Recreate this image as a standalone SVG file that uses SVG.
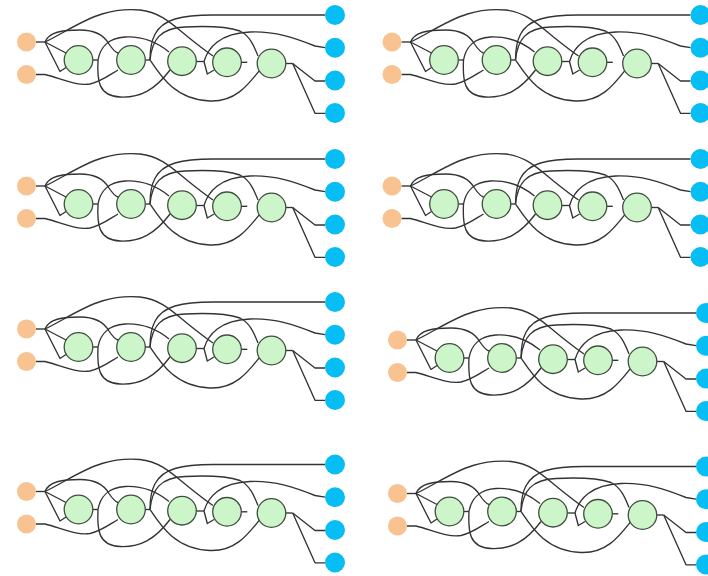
<svg xmlns="http://www.w3.org/2000/svg" width="708" height="576" viewBox="0 0 708 576">
<style>
  .bg{fill:#ffffff}
  .w path{fill:none;stroke:#333333;stroke-width:1.35;stroke-linejoin:round}
  .in circle{fill:#F8C291}
  .hid circle{fill:#CDF5CA;stroke:#3f4f3d;stroke-width:1.3}
  .out circle{fill:#06BEF4}
</style>
<rect class="bg" x="0" y="0" width="708" height="576"/>

<!-- network 1 -->
<g id="net1" transform="translate(0,0)">
  <g id="net1-connectors" class="w">
    <path d="M36,42 H45"/>
    <path d="M45,42 L66,53"/>
    <path d="M45,42 L60,71.5 L66,67.5"/>
    <path d="M45,42 C62,34 82,20 102,14 C115,10 128,9 140,10 C160,12 172,24 188,37 C198,45 207,52 213,56"/>
    <path d="M45,42 C49,32 62,30 80,30 C97,30 105,37 109,44 C113,50 115,52 118,53"/>
    <path d="M36,74.5 H45 C60,78 75,86 90,84 C100,82 108,76 118,70"/>
    <path d="M92.8,60 H98"/>
    <path d="M98,60 C100,48 108,38 125,37 C145,36 158,43 169,52"/>
    <path d="M98,60 C97,80 98,96 120,97 C140,98 155,90 170,70"/>
    <path d="M145.3,60 H150"/>
    <path d="M150,60 C150,40 155,25 175,19 C185,16 195,15 213,15 H325"/>
    <path d="M150,60 C152,40 160,28 185,27 C205,26 225,26 240,31 C250,36 254,46 258,56"/>
    <path d="M150,60 C160,75 175,100 210,101 C235,102 248,85 259,71"/>
    <path d="M196.3,61.5 H204"/>
    <path d="M204,61.5 L207.3,74 L214,70"/>
    <path d="M204,61.5 C208,48 220,33 250,32 C275,31 295,38 315,46 L325,47.7"/>
    <path d="M241.3,62.3 H247.3"/>
    <path d="M285.8,63.5 H292.7"/>
    <path d="M292.7,63.5 L315,81 H325"/>
    <path d="M292.7,63.5 L315,113.3 H325"/>
  </g>
  <g id="net1-in1" class="in"><circle cx="26.5" cy="42" r="9.5"/></g>
  <g id="net1-in2" class="in"><circle cx="26.5" cy="74.5" r="9.5"/></g>
  <g id="net1-h1" class="hid"><circle cx="78.5" cy="60" r="14.3"/></g>
  <g id="net1-h2" class="hid"><circle cx="131" cy="60" r="14.3"/></g>
  <g id="net1-h3" class="hid"><circle cx="182" cy="61.2" r="14.3"/></g>
  <g id="net1-h4" class="hid"><circle cx="227" cy="62.3" r="14.3"/></g>
  <g id="net1-h5" class="hid"><circle cx="271.5" cy="63.5" r="14.3"/></g>
  <g id="net1-out1" class="out"><circle cx="335" cy="15" r="10"/></g>
  <g id="net1-out2" class="out"><circle cx="335" cy="47.7" r="10"/></g>
  <g id="net1-out3" class="out"><circle cx="335" cy="80.5" r="10"/></g>
  <g id="net1-out4" class="out"><circle cx="335" cy="113" r="10"/></g>
</g>

<!-- network 2 -->
<g id="net2" transform="translate(365.5,0)">
  <g id="net2-connectors" class="w">
    <path d="M36,42 H45"/>
    <path d="M45,42 L66,53"/>
    <path d="M45,42 L60,71.5 L66,67.5"/>
    <path d="M45,42 C62,34 82,20 102,14 C115,10 128,9 140,10 C160,12 172,24 188,37 C198,45 207,52 213,56"/>
    <path d="M45,42 C49,32 62,30 80,30 C97,30 105,37 109,44 C113,50 115,52 118,53"/>
    <path d="M36,74.5 H45 C60,78 75,86 90,84 C100,82 108,76 118,70"/>
    <path d="M92.8,60 H98"/>
    <path d="M98,60 C100,48 108,38 125,37 C145,36 158,43 169,52"/>
    <path d="M98,60 C97,80 98,96 120,97 C140,98 155,90 170,70"/>
    <path d="M145.3,60 H150"/>
    <path d="M150,60 C150,40 155,25 175,19 C185,16 195,15 213,15 H325"/>
    <path d="M150,60 C152,40 160,28 185,27 C205,26 225,26 240,31 C250,36 254,46 258,56"/>
    <path d="M150,60 C160,75 175,100 210,101 C235,102 248,85 259,71"/>
    <path d="M196.3,61.5 H204"/>
    <path d="M204,61.5 L207.3,74 L214,70"/>
    <path d="M204,61.5 C208,48 220,33 250,32 C275,31 295,38 315,46 L325,47.7"/>
    <path d="M241.3,62.3 H247.3"/>
    <path d="M285.8,63.5 H292.7"/>
    <path d="M292.7,63.5 L315,81 H325"/>
    <path d="M292.7,63.5 L315,113.3 H325"/>
  </g>
  <g id="net2-in1" class="in"><circle cx="26.5" cy="42" r="9.5"/></g>
  <g id="net2-in2" class="in"><circle cx="26.5" cy="74.5" r="9.5"/></g>
  <g id="net2-h1" class="hid"><circle cx="78.5" cy="60" r="14.3"/></g>
  <g id="net2-h2" class="hid"><circle cx="131" cy="60" r="14.3"/></g>
  <g id="net2-h3" class="hid"><circle cx="182" cy="61.2" r="14.3"/></g>
  <g id="net2-h4" class="hid"><circle cx="227" cy="62.3" r="14.3"/></g>
  <g id="net2-h5" class="hid"><circle cx="271.5" cy="63.5" r="14.3"/></g>
  <g id="net2-out1" class="out"><circle cx="335" cy="15" r="10"/></g>
  <g id="net2-out2" class="out"><circle cx="335" cy="47.7" r="10"/></g>
  <g id="net2-out3" class="out"><circle cx="335" cy="80.5" r="10"/></g>
  <g id="net2-out4" class="out"><circle cx="335" cy="113" r="10"/></g>
</g>

<!-- network 3 -->
<g id="net3" transform="translate(0,144)">
  <g id="net3-connectors" class="w">
    <path d="M36,42 H45"/>
    <path d="M45,42 L66,53"/>
    <path d="M45,42 L60,71.5 L66,67.5"/>
    <path d="M45,42 C62,34 82,20 102,14 C115,10 128,9 140,10 C160,12 172,24 188,37 C198,45 207,52 213,56"/>
    <path d="M45,42 C49,32 62,30 80,30 C97,30 105,37 109,44 C113,50 115,52 118,53"/>
    <path d="M36,74.5 H45 C60,78 75,86 90,84 C100,82 108,76 118,70"/>
    <path d="M92.8,60 H98"/>
    <path d="M98,60 C100,48 108,38 125,37 C145,36 158,43 169,52"/>
    <path d="M98,60 C97,80 98,96 120,97 C140,98 155,90 170,70"/>
    <path d="M145.3,60 H150"/>
    <path d="M150,60 C150,40 155,25 175,19 C185,16 195,15 213,15 H325"/>
    <path d="M150,60 C152,40 160,28 185,27 C205,26 225,26 240,31 C250,36 254,46 258,56"/>
    <path d="M150,60 C160,75 175,100 210,101 C235,102 248,85 259,71"/>
    <path d="M196.3,61.5 H204"/>
    <path d="M204,61.5 L207.3,74 L214,70"/>
    <path d="M204,61.5 C208,48 220,33 250,32 C275,31 295,38 315,46 L325,47.7"/>
    <path d="M241.3,62.3 H247.3"/>
    <path d="M285.8,63.5 H292.7"/>
    <path d="M292.7,63.5 L315,81 H325"/>
    <path d="M292.7,63.5 L315,113.3 H325"/>
  </g>
  <g id="net3-in1" class="in"><circle cx="26.5" cy="42" r="9.5"/></g>
  <g id="net3-in2" class="in"><circle cx="26.5" cy="74.5" r="9.5"/></g>
  <g id="net3-h1" class="hid"><circle cx="78.5" cy="60" r="14.3"/></g>
  <g id="net3-h2" class="hid"><circle cx="131" cy="60" r="14.3"/></g>
  <g id="net3-h3" class="hid"><circle cx="182" cy="61.2" r="14.3"/></g>
  <g id="net3-h4" class="hid"><circle cx="227" cy="62.3" r="14.3"/></g>
  <g id="net3-h5" class="hid"><circle cx="271.5" cy="63.5" r="14.3"/></g>
  <g id="net3-out1" class="out"><circle cx="335" cy="15" r="10"/></g>
  <g id="net3-out2" class="out"><circle cx="335" cy="47.7" r="10"/></g>
  <g id="net3-out3" class="out"><circle cx="335" cy="80.5" r="10"/></g>
  <g id="net3-out4" class="out"><circle cx="335" cy="113" r="10"/></g>
</g>

<!-- network 4 -->
<g id="net4" transform="translate(365.5,144)">
  <g id="net4-connectors" class="w">
    <path d="M36,42 H45"/>
    <path d="M45,42 L66,53"/>
    <path d="M45,42 L60,71.5 L66,67.5"/>
    <path d="M45,42 C62,34 82,20 102,14 C115,10 128,9 140,10 C160,12 172,24 188,37 C198,45 207,52 213,56"/>
    <path d="M45,42 C49,32 62,30 80,30 C97,30 105,37 109,44 C113,50 115,52 118,53"/>
    <path d="M36,74.5 H45 C60,78 75,86 90,84 C100,82 108,76 118,70"/>
    <path d="M92.8,60 H98"/>
    <path d="M98,60 C100,48 108,38 125,37 C145,36 158,43 169,52"/>
    <path d="M98,60 C97,80 98,96 120,97 C140,98 155,90 170,70"/>
    <path d="M145.3,60 H150"/>
    <path d="M150,60 C150,40 155,25 175,19 C185,16 195,15 213,15 H325"/>
    <path d="M150,60 C152,40 160,28 185,27 C205,26 225,26 240,31 C250,36 254,46 258,56"/>
    <path d="M150,60 C160,75 175,100 210,101 C235,102 248,85 259,71"/>
    <path d="M196.3,61.5 H204"/>
    <path d="M204,61.5 L207.3,74 L214,70"/>
    <path d="M204,61.5 C208,48 220,33 250,32 C275,31 295,38 315,46 L325,47.7"/>
    <path d="M241.3,62.3 H247.3"/>
    <path d="M285.8,63.5 H292.7"/>
    <path d="M292.7,63.5 L315,81 H325"/>
    <path d="M292.7,63.5 L315,113.3 H325"/>
  </g>
  <g id="net4-in1" class="in"><circle cx="26.5" cy="42" r="9.5"/></g>
  <g id="net4-in2" class="in"><circle cx="26.5" cy="74.5" r="9.5"/></g>
  <g id="net4-h1" class="hid"><circle cx="78.5" cy="60" r="14.3"/></g>
  <g id="net4-h2" class="hid"><circle cx="131" cy="60" r="14.3"/></g>
  <g id="net4-h3" class="hid"><circle cx="182" cy="61.2" r="14.3"/></g>
  <g id="net4-h4" class="hid"><circle cx="227" cy="62.3" r="14.3"/></g>
  <g id="net4-h5" class="hid"><circle cx="271.5" cy="63.5" r="14.3"/></g>
  <g id="net4-out1" class="out"><circle cx="335" cy="15" r="10"/></g>
  <g id="net4-out2" class="out"><circle cx="335" cy="47.7" r="10"/></g>
  <g id="net4-out3" class="out"><circle cx="335" cy="80.5" r="10"/></g>
  <g id="net4-out4" class="out"><circle cx="335" cy="113" r="10"/></g>
</g>

<!-- network 5 -->
<g id="net5" transform="translate(0,287)">
  <g id="net5-connectors" class="w">
    <path d="M36,42 H45"/>
    <path d="M45,42 L66,53"/>
    <path d="M45,42 L60,71.5 L66,67.5"/>
    <path d="M45,42 C62,34 82,20 102,14 C115,10 128,9 140,10 C160,12 172,24 188,37 C198,45 207,52 213,56"/>
    <path d="M45,42 C49,32 62,30 80,30 C97,30 105,37 109,44 C113,50 115,52 118,53"/>
    <path d="M36,74.5 H45 C60,78 75,86 90,84 C100,82 108,76 118,70"/>
    <path d="M92.8,60 H98"/>
    <path d="M98,60 C100,48 108,38 125,37 C145,36 158,43 169,52"/>
    <path d="M98,60 C97,80 98,96 120,97 C140,98 155,90 170,70"/>
    <path d="M145.3,60 H150"/>
    <path d="M150,60 C150,40 155,25 175,19 C185,16 195,15 213,15 H325"/>
    <path d="M150,60 C152,40 160,28 185,27 C205,26 225,26 240,31 C250,36 254,46 258,56"/>
    <path d="M150,60 C160,75 175,100 210,101 C235,102 248,85 259,71"/>
    <path d="M196.3,61.5 H204"/>
    <path d="M204,61.5 L207.3,74 L214,70"/>
    <path d="M204,61.5 C208,48 220,33 250,32 C275,31 295,38 315,46 L325,47.7"/>
    <path d="M241.3,62.3 H247.3"/>
    <path d="M285.8,63.5 H292.7"/>
    <path d="M292.7,63.5 L315,81 H325"/>
    <path d="M292.7,63.5 L315,113.3 H325"/>
  </g>
  <g id="net5-in1" class="in"><circle cx="26.5" cy="42" r="9.5"/></g>
  <g id="net5-in2" class="in"><circle cx="26.5" cy="74.5" r="9.5"/></g>
  <g id="net5-h1" class="hid"><circle cx="78.5" cy="60" r="14.3"/></g>
  <g id="net5-h2" class="hid"><circle cx="131" cy="60" r="14.3"/></g>
  <g id="net5-h3" class="hid"><circle cx="182" cy="61.2" r="14.3"/></g>
  <g id="net5-h4" class="hid"><circle cx="227" cy="62.3" r="14.3"/></g>
  <g id="net5-h5" class="hid"><circle cx="271.5" cy="63.5" r="14.3"/></g>
  <g id="net5-out1" class="out"><circle cx="335" cy="15" r="10"/></g>
  <g id="net5-out2" class="out"><circle cx="335" cy="47.7" r="10"/></g>
  <g id="net5-out3" class="out"><circle cx="335" cy="80.5" r="10"/></g>
  <g id="net5-out4" class="out"><circle cx="335" cy="113" r="10"/></g>
</g>

<!-- network 6 -->
<g id="net6" transform="translate(371,298)">
  <g id="net6-connectors" class="w">
    <path d="M36,42 H45"/>
    <path d="M45,42 L66,53"/>
    <path d="M45,42 L60,71.5 L66,67.5"/>
    <path d="M45,42 C62,34 82,20 102,14 C115,10 128,9 140,10 C160,12 172,24 188,37 C198,45 207,52 213,56"/>
    <path d="M45,42 C49,32 62,30 80,30 C97,30 105,37 109,44 C113,50 115,52 118,53"/>
    <path d="M36,74.5 H45 C60,78 75,86 90,84 C100,82 108,76 118,70"/>
    <path d="M92.8,60 H98"/>
    <path d="M98,60 C100,48 108,38 125,37 C145,36 158,43 169,52"/>
    <path d="M98,60 C97,80 98,96 120,97 C140,98 155,90 170,70"/>
    <path d="M145.3,60 H150"/>
    <path d="M150,60 C150,40 155,25 175,19 C185,16 195,15 213,15 H325"/>
    <path d="M150,60 C152,40 160,28 185,27 C205,26 225,26 240,31 C250,36 254,46 258,56"/>
    <path d="M150,60 C160,75 175,100 210,101 C235,102 248,85 259,71"/>
    <path d="M196.3,61.5 H204"/>
    <path d="M204,61.5 L207.3,74 L214,70"/>
    <path d="M204,61.5 C208,48 220,33 250,32 C275,31 295,38 315,46 L325,47.7"/>
    <path d="M241.3,62.3 H247.3"/>
    <path d="M285.8,63.5 H292.7"/>
    <path d="M292.7,63.5 L315,81 H325"/>
    <path d="M292.7,63.5 L315,113.3 H325"/>
  </g>
  <g id="net6-in1" class="in"><circle cx="26.5" cy="42" r="9.5"/></g>
  <g id="net6-in2" class="in"><circle cx="26.5" cy="74.5" r="9.5"/></g>
  <g id="net6-h1" class="hid"><circle cx="78.5" cy="60" r="14.3"/></g>
  <g id="net6-h2" class="hid"><circle cx="131" cy="60" r="14.3"/></g>
  <g id="net6-h3" class="hid"><circle cx="182" cy="61.2" r="14.3"/></g>
  <g id="net6-h4" class="hid"><circle cx="227" cy="62.3" r="14.3"/></g>
  <g id="net6-h5" class="hid"><circle cx="271.5" cy="63.5" r="14.3"/></g>
  <g id="net6-out1" class="out"><circle cx="335" cy="15" r="10"/></g>
  <g id="net6-out2" class="out"><circle cx="335" cy="47.7" r="10"/></g>
  <g id="net6-out3" class="out"><circle cx="335" cy="80.5" r="10"/></g>
  <g id="net6-out4" class="out"><circle cx="335" cy="113" r="10"/></g>
</g>

<!-- network 7 -->
<g id="net7" transform="translate(0,449.5)">
  <g id="net7-connectors" class="w">
    <path d="M36,42 H45"/>
    <path d="M45,42 L66,53"/>
    <path d="M45,42 L60,71.5 L66,67.5"/>
    <path d="M45,42 C62,34 82,20 102,14 C115,10 128,9 140,10 C160,12 172,24 188,37 C198,45 207,52 213,56"/>
    <path d="M45,42 C49,32 62,30 80,30 C97,30 105,37 109,44 C113,50 115,52 118,53"/>
    <path d="M36,74.5 H45 C60,78 75,86 90,84 C100,82 108,76 118,70"/>
    <path d="M92.8,60 H98"/>
    <path d="M98,60 C100,48 108,38 125,37 C145,36 158,43 169,52"/>
    <path d="M98,60 C97,80 98,96 120,97 C140,98 155,90 170,70"/>
    <path d="M145.3,60 H150"/>
    <path d="M150,60 C150,40 155,25 175,19 C185,16 195,15 213,15 H325"/>
    <path d="M150,60 C152,40 160,28 185,27 C205,26 225,26 240,31 C250,36 254,46 258,56"/>
    <path d="M150,60 C160,75 175,100 210,101 C235,102 248,85 259,71"/>
    <path d="M196.3,61.5 H204"/>
    <path d="M204,61.5 L207.3,74 L214,70"/>
    <path d="M204,61.5 C208,48 220,33 250,32 C275,31 295,38 315,46 L325,47.7"/>
    <path d="M241.3,62.3 H247.3"/>
    <path d="M285.8,63.5 H292.7"/>
    <path d="M292.7,63.5 L315,81 H325"/>
    <path d="M292.7,63.5 L315,113.3 H325"/>
  </g>
  <g id="net7-in1" class="in"><circle cx="26.5" cy="42" r="9.5"/></g>
  <g id="net7-in2" class="in"><circle cx="26.5" cy="74.5" r="9.5"/></g>
  <g id="net7-h1" class="hid"><circle cx="78.5" cy="60" r="14.3"/></g>
  <g id="net7-h2" class="hid"><circle cx="131" cy="60" r="14.3"/></g>
  <g id="net7-h3" class="hid"><circle cx="182" cy="61.2" r="14.3"/></g>
  <g id="net7-h4" class="hid"><circle cx="227" cy="62.3" r="14.3"/></g>
  <g id="net7-h5" class="hid"><circle cx="271.5" cy="63.5" r="14.3"/></g>
  <g id="net7-out1" class="out"><circle cx="335" cy="15" r="10"/></g>
  <g id="net7-out2" class="out"><circle cx="335" cy="47.7" r="10"/></g>
  <g id="net7-out3" class="out"><circle cx="335" cy="80.5" r="10"/></g>
  <g id="net7-out4" class="out"><circle cx="335" cy="113" r="10"/></g>
</g>

<!-- network 8 -->
<g id="net8" transform="translate(371,451.5)">
  <g id="net8-connectors" class="w">
    <path d="M36,42 H45"/>
    <path d="M45,42 L66,53"/>
    <path d="M45,42 L60,71.5 L66,67.5"/>
    <path d="M45,42 C62,34 82,20 102,14 C115,10 128,9 140,10 C160,12 172,24 188,37 C198,45 207,52 213,56"/>
    <path d="M45,42 C49,32 62,30 80,30 C97,30 105,37 109,44 C113,50 115,52 118,53"/>
    <path d="M36,74.5 H45 C60,78 75,86 90,84 C100,82 108,76 118,70"/>
    <path d="M92.8,60 H98"/>
    <path d="M98,60 C100,48 108,38 125,37 C145,36 158,43 169,52"/>
    <path d="M98,60 C97,80 98,96 120,97 C140,98 155,90 170,70"/>
    <path d="M145.3,60 H150"/>
    <path d="M150,60 C150,40 155,25 175,19 C185,16 195,15 213,15 H325"/>
    <path d="M150,60 C152,40 160,28 185,27 C205,26 225,26 240,31 C250,36 254,46 258,56"/>
    <path d="M150,60 C160,75 175,100 210,101 C235,102 248,85 259,71"/>
    <path d="M196.3,61.5 H204"/>
    <path d="M204,61.5 L207.3,74 L214,70"/>
    <path d="M204,61.5 C208,48 220,33 250,32 C275,31 295,38 315,46 L325,47.7"/>
    <path d="M241.3,62.3 H247.3"/>
    <path d="M285.8,63.5 H292.7"/>
    <path d="M292.7,63.5 L315,81 H325"/>
    <path d="M292.7,63.5 L315,113.3 H325"/>
  </g>
  <g id="net8-in1" class="in"><circle cx="26.5" cy="42" r="9.5"/></g>
  <g id="net8-in2" class="in"><circle cx="26.5" cy="74.5" r="9.5"/></g>
  <g id="net8-h1" class="hid"><circle cx="78.5" cy="60" r="14.3"/></g>
  <g id="net8-h2" class="hid"><circle cx="131" cy="60" r="14.3"/></g>
  <g id="net8-h3" class="hid"><circle cx="182" cy="61.2" r="14.3"/></g>
  <g id="net8-h4" class="hid"><circle cx="227" cy="62.3" r="14.3"/></g>
  <g id="net8-h5" class="hid"><circle cx="271.5" cy="63.5" r="14.3"/></g>
  <g id="net8-out1" class="out"><circle cx="335" cy="15" r="10"/></g>
  <g id="net8-out2" class="out"><circle cx="335" cy="47.7" r="10"/></g>
  <g id="net8-out3" class="out"><circle cx="335" cy="80.5" r="10"/></g>
  <g id="net8-out4" class="out"><circle cx="335" cy="113" r="10"/></g>
</g>
</svg>
